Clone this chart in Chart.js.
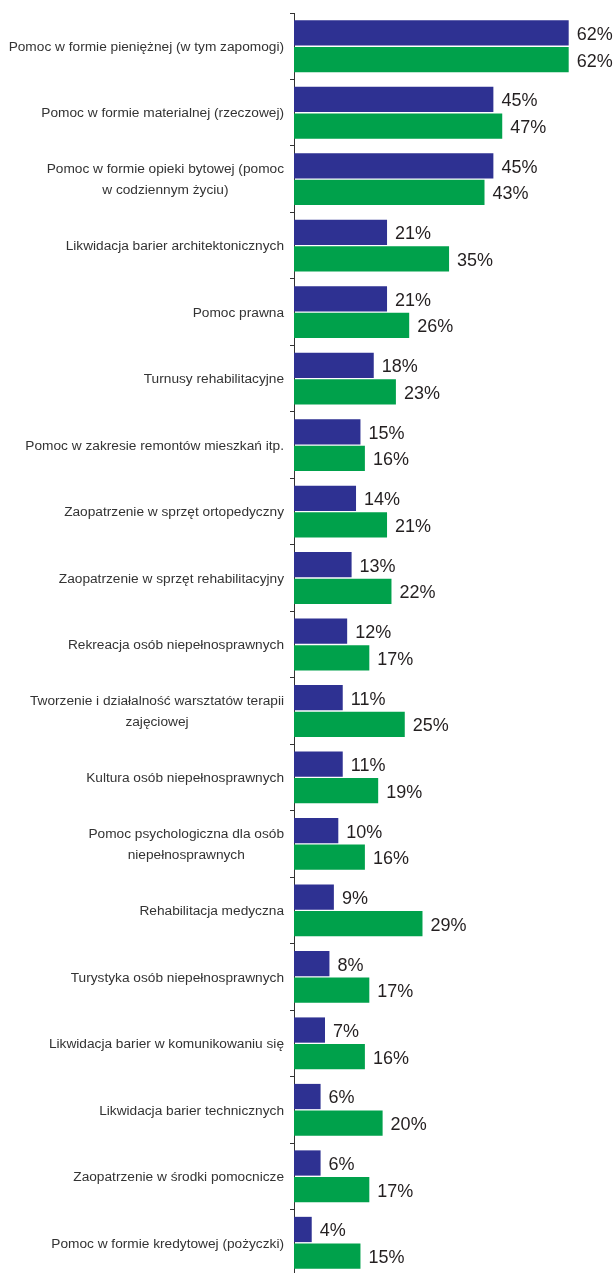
<!DOCTYPE html>
<html>
<head>
<meta charset="utf-8">
<script src="https://cdn.jsdelivr.net/npm/chart.js@4"></script>
<style>
  html, body { margin: 0; padding: 0; background: #fff; overflow: hidden; }
  #wrap { width: 613px; height: 1276px; }
</style>
</head>
<body>
<div id="wrap"><canvas id="barChart"></canvas></div>
<script>
const categories = [
  "Pomoc w formie pieniężnej (w tym zapomogi)",
  "Pomoc w formie materialnej (rzeczowej)",
  ["Pomoc w formie opieki bytowej (pomoc", "w codziennym życiu)"],
  "Likwidacja barier architektonicznych",
  "Pomoc prawna",
  "Turnusy rehabilitacyjne",
  "Pomoc w zakresie remontów mieszkań itp.",
  "Zaopatrzenie w sprzęt ortopedyczny",
  "Zaopatrzenie w sprzęt rehabilitacyjny",
  "Rekreacja osób niepełnosprawnych",
  ["Tworzenie i działalność warsztatów terapii", "zajęciowej"],
  "Kultura osób niepełnosprawnych",
  ["Pomoc psychologiczna dla osób", "niepełnosprawnych"],
  "Rehabilitacja medyczna",
  "Turystyka osób niepełnosprawnych",
  "Likwidacja barier w komunikowaniu się",
  "Likwidacja barier technicznych",
  "Zaopatrzenie w środki pomocnicze",
  "Pomoc w formie kredytowej (pożyczki)"
];
const seriesBlue = [62, 45, 45, 21, 21, 18, 15, 14, 13, 12, 11, 11, 10, 9, 8, 7, 6, 6, 4];
const seriesGreen = [62, 47, 43, 35, 26, 23, 16, 21, 22, 17, 25, 19, 16, 29, 17, 16, 20, 17, 15];

// category labels: lines centred within block, block right-aligned to the axis
const catLabels = {
  id: "catLabels",
  afterDraw(chart) {
    const ctx = chart.ctx;
    const y = chart.scales.y;
    ctx.save();
    ctx.font = "13.7px 'Liberation Sans', Arial, sans-serif";
    ctx.fillStyle = "#333";
    ctx.textBaseline = "middle";
    ctx.textAlign = "center";
    categories.forEach((lab, i) => {
      const lines = Array.isArray(lab) ? lab : [lab];
      const w = Math.max(...lines.map((l) => ctx.measureText(l).width));
      const cx = 284 - w / 2;
      const cy = y.getPixelForValue(i);
      const lh = 21;
      lines.forEach((l, j) => {
        ctx.fillText(l, cx, cy + (j - (lines.length - 1) / 2) * lh + 1);
      });
    });
    ctx.restore();
  }
};

// value labels to the right of each bar
const valueLabels = {
  id: "valueLabels",
  afterDatasetsDraw(chart) {
    const ctx = chart.ctx;
    ctx.save();
    ctx.font = "18px 'Liberation Sans', Arial, sans-serif";
    ctx.fillStyle = "#231f20";
    ctx.textBaseline = "middle";
    ctx.textAlign = "left";
    chart.data.datasets.forEach((ds, di) => {
      chart.getDatasetMeta(di).data.forEach((bar, i) => {
        ctx.fillText(ds.data[i] + "%", bar.x + 8, bar.y + 2);
      });
    });
    ctx.restore();
  }
};

const barCtx = document.getElementById("barChart").getContext("2d");
new Chart(barCtx, {
  type: "bar",
  data: {
    labels: categories,
    datasets: [
      {
        data: seriesBlue,
        backgroundColor: "#2e3192",
        barPercentage: 0.95,
        categoryPercentage: 0.8,
      },
      {
        data: seriesGreen,
        backgroundColor: "#00a14b",
        barPercentage: 0.95,
        categoryPercentage: 0.8,
      },
    ],
  },
  options: {
    indexAxis: "y",
    responsive: true,
    maintainAspectRatio: false,
    animation: false,
    layout: { padding: { top: 13, bottom: 0, left: 0, right: 0 } },
    plugins: {
      legend: { display: false },
      tooltip: { enabled: false },
    },
    scales: {
      x: {
        display: false,
        min: 0,
        max: 72,
      },
      y: {
        afterFit(scale) {
          scale.width = 294;
        },
        ticks: { display: false },
        grid: {
          drawOnChartArea: false,
          drawTicks: true,
          tickLength: 4,
          color: "#333",
          lineWidth: 1,
        },
        border: { display: true, color: "#333", width: 1 },
      },
    },
  },
  plugins: [catLabels, valueLabels],
});
</script>
</body>
</html>
